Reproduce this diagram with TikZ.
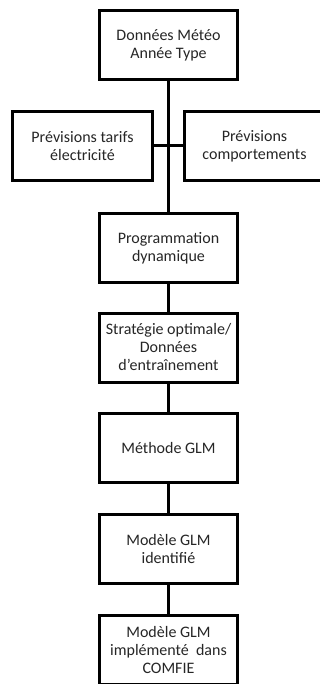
\documentclass[tikz,border=0pt]{standalone}
\usepackage{fontspec}
\setmainfont{Carlito}
\begin{document}
\begin{tikzpicture}[x=1pt,y=1pt,
  box/.style={draw=black,line width=3pt,fill=white,align=center,inner sep=0pt,
    minimum width=138pt,minimum height=69pt,font=\fontsize{16}{18}\selectfont,text=black!85},
  link/.style={draw=black,line width=3pt}]
\useasboundingbox (0,0) rectangle (320,-684);
\clip (0,0) rectangle (320,-684);
\fill[white] (0,0) rectangle (320,-684);
\node[box] (meteo) at (168.5,-45) {Données Météo\\Année Type};
\node[box,minimum width=140pt] (tarifs) at (82.5,-146) {Prévisions tarifs\\électricité};
\node[box,minimum width=140pt] (comport) at (254.5,-146) {Prévisions\\comportements};
\node[box,minimum height=68pt] (prog) at (168.5,-248) {Programmation\\dynamique};
\node[box] (strat) at (168.5,-347.5) {Stratégie optimale/\\Données\\d’entraînement};
\node[box] (glm) at (168.5,-448) {Méthode GLM};
\node[box] (ident) at (168.5,-549) {Modèle GLM\\identifié};
\node[box] (impl) at (168.5,-649.5) {Modèle GLM\\implémenté\ \ dans\\COMFIE};
\draw[link] (meteo.south) -- (prog.north);
\draw[link] (tarifs.east) -- (comport.west);
\draw[link] (prog.south) -- (strat.north);
\draw[link] (strat.south) -- (glm.north);
\draw[link] (glm.south) -- (ident.north);
\draw[link] (ident.south) -- (impl.north);
\end{tikzpicture}
\end{document}
